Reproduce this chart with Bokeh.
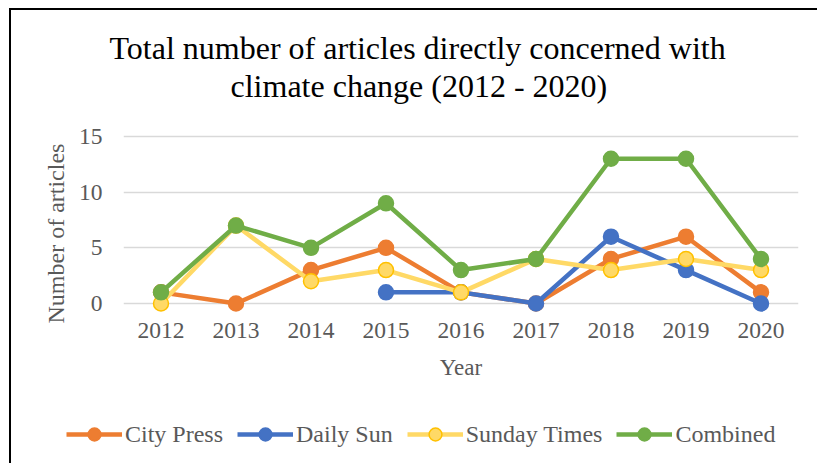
from bokeh.plotting import figure
from bokeh.layouts import column
from bokeh.models import Range1d, FixedTicker, Legend, LegendItem, Title
from bokeh.embed import file_html
from bokeh.resources import INLINE

# Articles per newspaper and year
years = [2012, 2013, 2014, 2015, 2016, 2017, 2018, 2019, 2020]
city_press = [1, 0, 3, 5, 1, 0, 4, 6, 1]
daily_sun = [float("nan"), float("nan"), float("nan"), 1, 1, 0, 6, 3, 0]
sunday_times = [0, 7, 2, 3, 1, 4, 3, 4, 3]
combined = [1, 7, 5, 9, 3, 4, 13, 13, 4]

series_names = ["City Press", "Daily Sun", "Sunday Times", "Combined"]
y_ticks = [0, 5, 10, 15]

FONT = "Liberation Serif"
GREY = "#595959"
LINE_COLORS = ["#ED7D31", "#4472C4", "#FFD966", "#70AD47"]
MARKER_OUTLINES = ["#ED7D31", "#4472C4", "#FFC000", "#70AD47"]
series_values = [city_press, daily_sun, sunday_times, combined]

# Main chart geometry (pixels inside the figure)
W, H = 806, 395
FL, FT, FW, FH = 112, 115, 675, 193
Y0_PX = 293                  # screen row of y = 0
Y_PX_PER_UNIT = 167 / 15     # pixels per article
x_start, x_end = 2011.5, 2020.5
y_start = -(FT + FH - Y0_PX) / Y_PX_PER_UNIT
y_end = (Y0_PX - FT) / Y_PX_PER_UNIT

p = figure(width=W, height=H,
           x_range=Range1d(x_start, x_end), y_range=Range1d(y_start, y_end),
           output_backend="svg", toolbar_location=None, title=None,
           min_border_left=FL, min_border_right=W - FL - FW,
           min_border_top=FT, min_border_bottom=H - FT - FH)
p.outline_line_color = None
p.background_fill_color = "white"
p.border_fill_color = "white"

# Two-line chart title, each line centred over the chart area
title_kw = dict(align="left", text_font=FONT, text_font_size="32px",
                text_font_style="normal", text_color="black", standoff=0)
p.add_layout(Title(text=" ", text_font_size="1px", standoff=19), "above")   # gap above the plot area
p.add_layout(Title(text="climate change (2012 - 2020)", offset=107, **title_kw), "above")
p.add_layout(Title(text="Total number of articles directly concerned with", offset=-14, **title_kw), "above")

# Axes
p.xaxis.ticker = FixedTicker(ticks=years)
p.yaxis.ticker = FixedTicker(ticks=y_ticks)
for ax in (p.xaxis[0], p.yaxis[0]):
    ax.axis_line_color = None
    ax.major_tick_line_color = None
    ax.minor_tick_line_color = None
    ax.major_tick_out = 0
    ax.major_tick_in = 0
    ax.major_label_text_font = FONT
    ax.major_label_text_font_size = "23.5px"
    ax.major_label_text_color = GREY
p.xaxis.major_label_standoff = 4
p.yaxis.major_label_standoff = 21
p.xaxis.axis_label = "Year"
p.xaxis.axis_label_text_font = FONT
p.xaxis.axis_label_text_font_style = "normal"
p.xaxis.axis_label_text_color = GREY
p.xaxis.axis_label_text_font_size = "23px"
p.xaxis.axis_label_standoff = 14

# Vertical axis title
p.add_layout(Title(text="Number of articles", align="left", offset=-5, standoff=14,
                   text_font=FONT, text_font_size="24px", text_font_style="normal",
                   text_color=GREY), "left")

p.xgrid.grid_line_color = None
p.ygrid.ticker = FixedTicker(ticks=y_ticks)
p.ygrid.grid_line_color = "#D9D9D9"
p.ygrid.grid_line_width = 1.5

# Series: line first, markers on top; later series drawn above earlier ones
for lc, oc, vals in zip(LINE_COLORS, MARKER_OUTLINES, series_values):
    p.line(years, vals, line_color=lc, line_width=4.5)
    p.scatter(years, vals, size=15, fill_color=lc, line_color=oc, line_width=1.5)

# Legend strip under the chart; its frame shows only the legend
q = figure(width=W, height=58, x_range=Range1d(0, 1), y_range=Range1d(0, 1),
           output_backend="svg", toolbar_location=None,
           x_axis_type=None, y_axis_type=None,
           min_border_left=0, min_border_right=0, min_border_top=0, min_border_bottom=0)
for fig in (p, q):
    if hasattr(fig, "frame_align"):
        fig.frame_align = False
q.outline_line_color = None
q.grid.visible = False
q.background_fill_color = "white"
q.border_fill_color = "white"
items = []
for name, lc, oc, vals in zip(series_names, LINE_COLORS, MARKER_OUTLINES, series_values):
    r_line = q.line(years, vals, line_color=lc, line_width=4.5)
    r_pts = q.scatter(years, vals, size=15, fill_color=lc, line_color=oc, line_width=1.5)
    items.append(LegendItem(label=name, renderers=[r_line, r_pts]))
legend = Legend(items=items, orientation="horizontal", location=(55, 13),
                label_text_font=FONT, label_text_font_size="24px", label_text_color=GREY,
                glyph_width=56, glyph_height=32, label_height=32, label_standoff=3,
                spacing=14, padding=0, margin=0,
                border_line_color=None, background_fill_alpha=0)
q.add_layout(legend)

layout = column(p, q, spacing=0, margin=(8, 0, 0, 9),
                styles={"border-left": "2px solid #000", "border-top": "2px solid #000",
                        "border-right": "none", "border-bottom": "none", "outline": "none"})

open("out.html", "w").write(file_html(layout, INLINE))
